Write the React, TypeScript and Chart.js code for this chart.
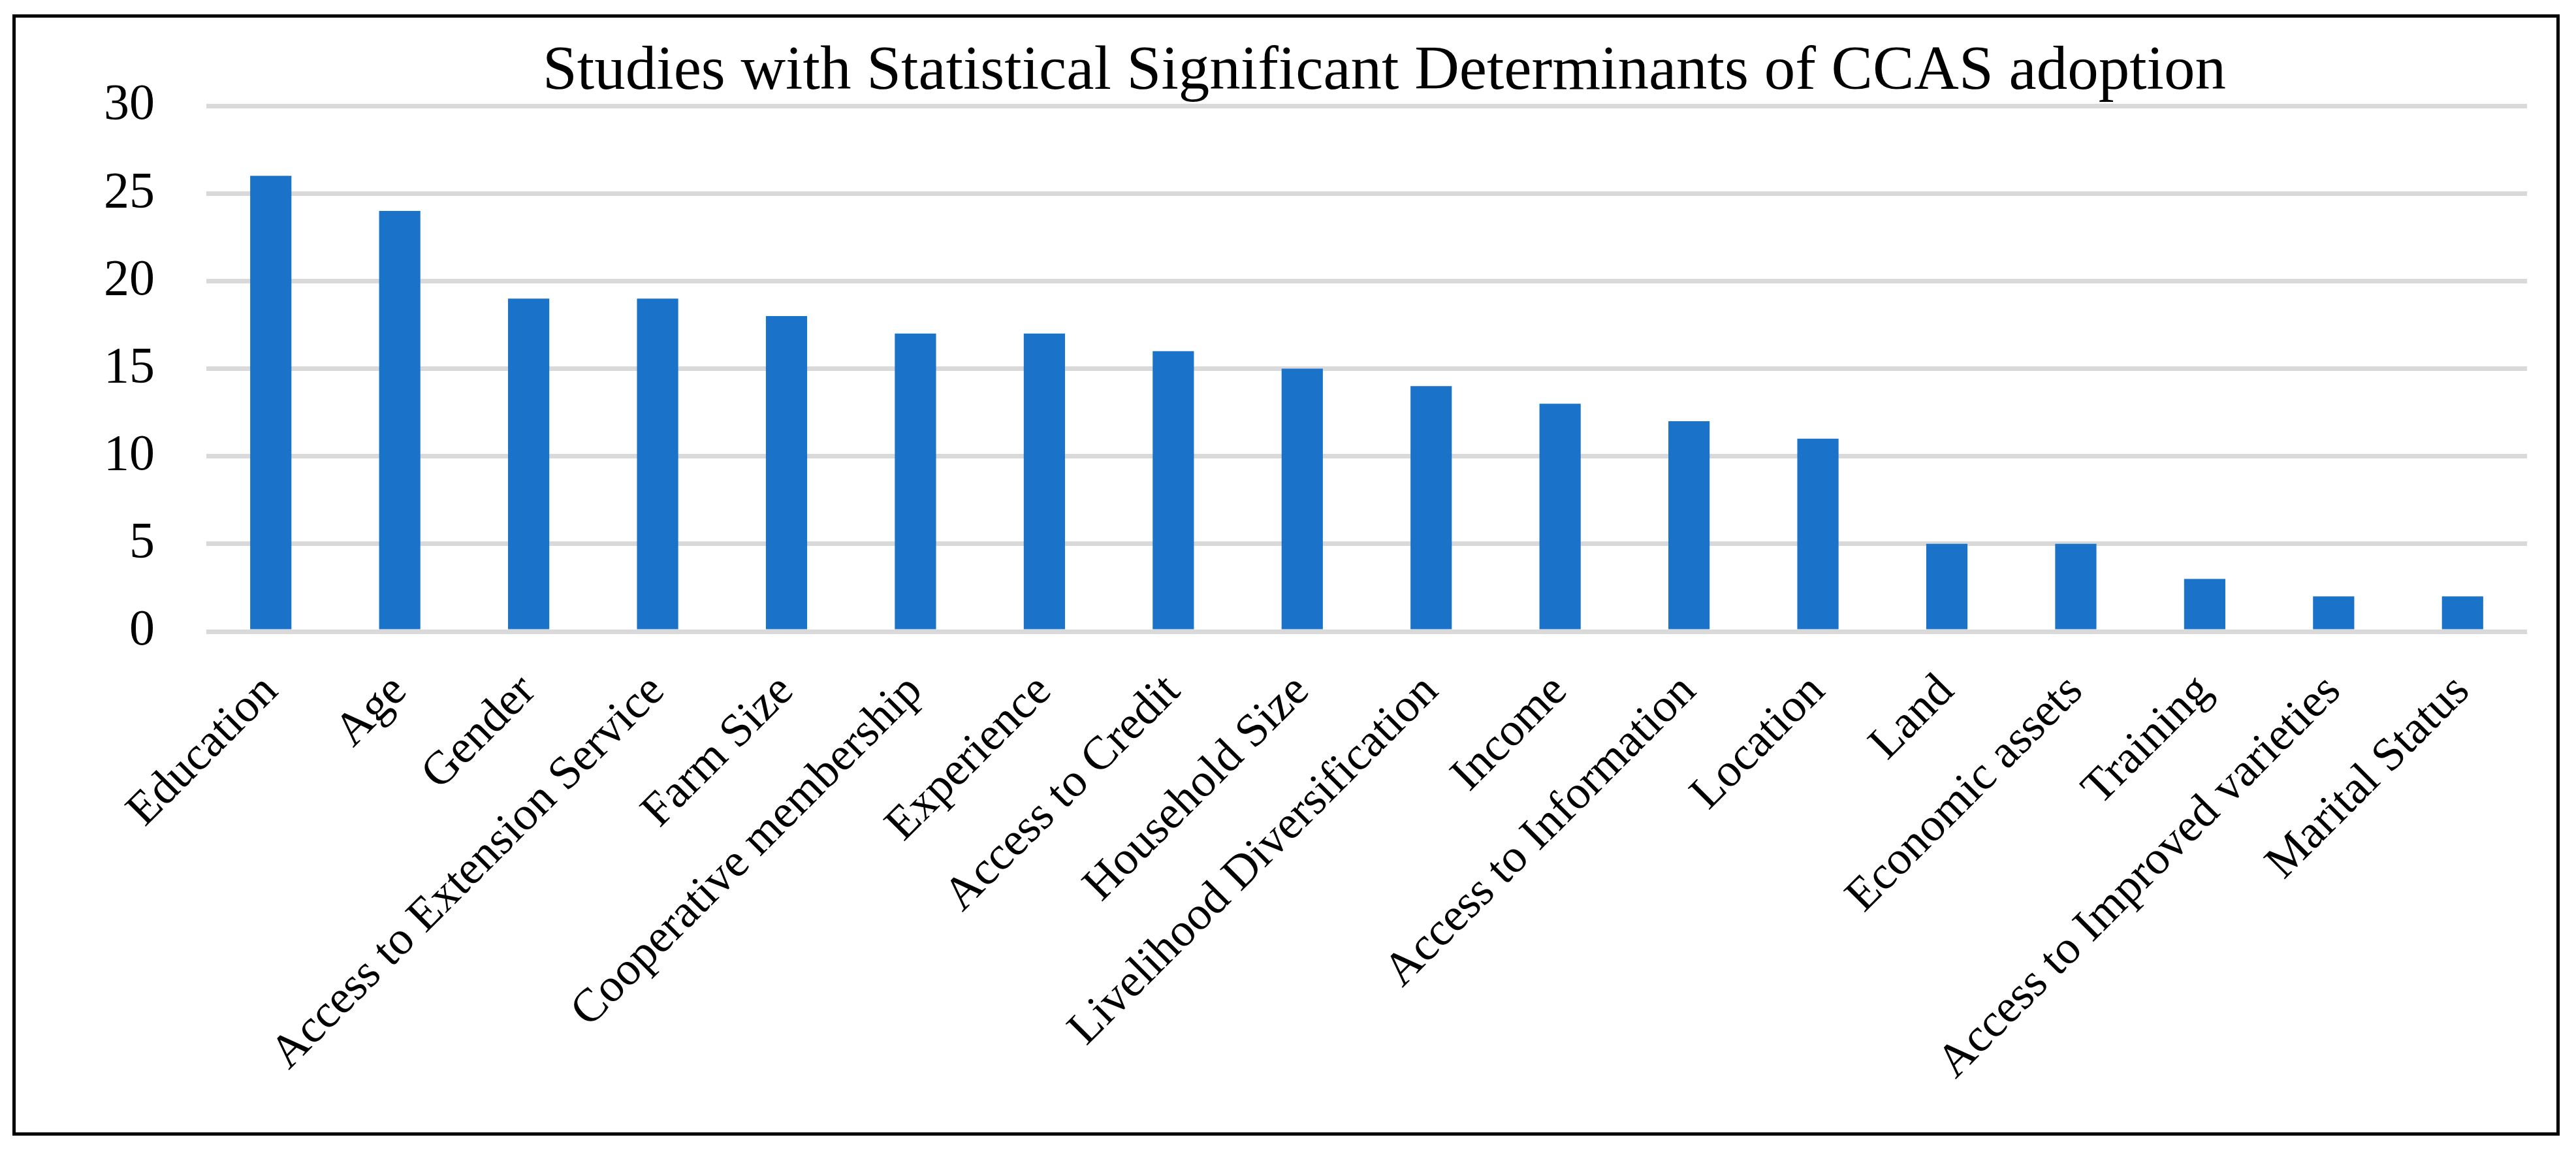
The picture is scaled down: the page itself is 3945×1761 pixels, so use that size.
import React, { useEffect, useRef } from "react";
import { Chart, registerables } from "chart.js";

Chart.register(...registerables);

const chartTitle = "Studies with Statistical Significant Determinants of CCAS adoption";

const categories = [
  "Education",
  "Age",
  "Gender",
  "Access to Extension Service",
  "Farm Size",
  "Cooperative membership",
  "Experience",
  "Access to Credit",
  "Household Size",
  "Livelihood Diversification",
  "Income",
  "Access to Information",
  "Location",
  "Land",
  "Economic assets",
  "Training",
  "Access to Improved varieties",
  "Marital Status",
];

const studyCounts = [26, 24, 19, 19, 18, 17, 17, 16, 15, 14, 13, 12, 11, 5, 5, 3, 2, 2];

const yTicks = [0, 5, 10, 15, 20, 25, 30];

const W = 3945;
const H = 1761;

export default function App() {
  const canvasRef = useRef<HTMLCanvasElement | null>(null);

  useEffect(() => {
    const canvas = canvasRef.current;
    if (!canvas) return;

    const titlePlugin = {
      id: "customTitle",
      afterDraw(chart: any) {
        const ctx = chart.ctx;
        ctx.save();
        ctx.font = '95px "Liberation Serif"';
        ctx.fillStyle = "#000000";
        ctx.textAlign = "center";
        ctx.textBaseline = "alphabetic";
        ctx.fillText(chartTitle, 2120, 136);
        ctx.restore();
      },
    };

    const chart = new Chart(canvas, {
      type: "bar",
      data: {
        labels: categories,
        datasets: [
          {
            label: "Studies",
            data: studyCounts,
            backgroundColor: "#1a73c8",
            borderWidth: 0,
            barPercentage: 0.32,
            categoryPercentage: 1,
          },
        ],
      },
      options: {
        animation: false,
        responsive: false,
        devicePixelRatio: 1,
        layout: { padding: { top: 162, right: 75, bottom: 0, left: 0 } },
        plugins: {
          legend: { display: false },
          title: { display: false },
          tooltip: { enabled: false },
        },
        scales: {
          x: {
            grid: { display: false, drawTicks: false },
            border: { display: false },
            ticks: {
              autoSkip: false,
              maxRotation: 45,
              minRotation: 45,
              padding: 50,
              color: "#000000",
              font: { family: '"Liberation Serif"', size: 72 },
            },
            afterFit(scale: any) {
              scale.height = H - 967;
            },
          },
          y: {
            min: 0,
            max: 30,
            afterBuildTicks(scale: any) {
              scale.ticks = yTicks.map((v) => ({ value: v }));
            },
            grid: { color: "#d9d9d9", lineWidth: 7, drawTicks: false },
            border: { display: false },
            ticks: {
              padding: 79,
              color: "#000000",
              font: { family: '"Liberation Serif"', size: 78 },
            },
            afterFit(scale: any) {
              scale.width = 316;
            },
          },
        },
      },
      plugins: [titlePlugin],
    });

    return () => {
      chart.destroy();
    };
  }, []);

  return (
    <div style={{ position: "absolute", left: 0, top: 0, width: W, height: H, background: "#ffffff" }}>
      <canvas ref={canvasRef} width={W} height={H} style={{ position: "absolute", left: 0, top: 0, width: W, height: H }} />
      <div
        style={{
          position: "absolute",
          left: 19,
          top: 22,
          width: 3901,
          height: 1717,
          boxSizing: "border-box",
          border: "5px solid #000000",
          pointerEvents: "none",
        }}
      />
    </div>
  );
}
